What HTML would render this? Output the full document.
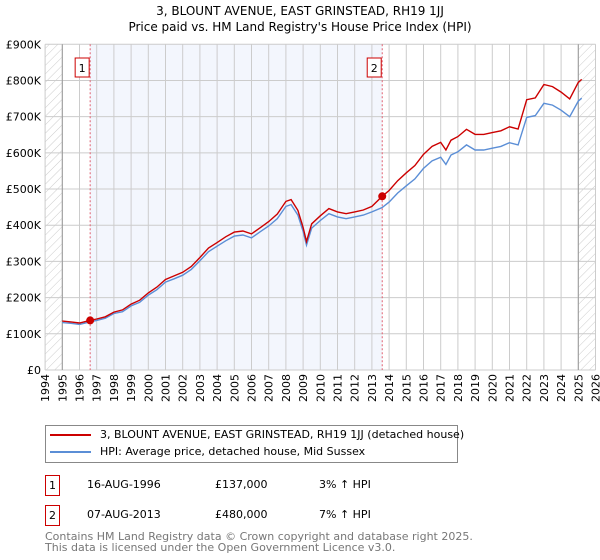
<!DOCTYPE html>
<html><head><meta charset="utf-8"><style>
body{margin:0;background:#fff;font-family:"DejaVu Sans","Liberation Sans",sans-serif;}
#wrap{position:relative;width:600px;height:560px;overflow:hidden}
.t{position:absolute;font-size:11px;color:#000;white-space:nowrap}
.box{position:absolute;border:1px solid #c00;width:13px;height:19px;font-size:11px;text-align:center;line-height:19px}
</style></head><body><div id="wrap">
<div class="t" style="left:0;width:600px;text-align:center;top:3px;font-size:12px;line-height:16px">3, BLOUNT AVENUE, EAST GRINSTEAD, RH19 1JJ<br>Price paid vs. HM Land Registry's House Price Index (HPI)</div>
<svg id="chart" width="600" height="410" style="position:absolute;left:0;top:0" font-family="DejaVu Sans, Liberation Sans, sans-serif" font-size="11"></svg>
<div style="position:absolute;left:45px;top:425px;width:411px;height:36px;border:1px solid #888"></div>
<div style="position:absolute;left:50px;top:434px;width:41px;height:2px;background:#c00"></div>
<div class="t" style="left:100px;top:428px">3, BLOUNT AVENUE, EAST GRINSTEAD, RH19 1JJ (detached house)</div>
<div style="position:absolute;left:50px;top:451px;width:41px;height:2px;background:#5b8ed6"></div>
<div class="t" style="left:100px;top:445px">HPI: Average price, detached house, Mid Sussex</div>
<div class="box" style="left:45px;top:475px">1</div>
<div class="t" style="left:87px;top:478px">16-AUG-1996</div>
<div class="t" style="left:215px;top:478px">£137,000</div>
<div class="t" style="left:319px;top:478px">3% ↑ HPI</div>
<div class="box" style="left:45px;top:505px">2</div>
<div class="t" style="left:87px;top:508px">07-AUG-2013</div>
<div class="t" style="left:215px;top:508px">£480,000</div>
<div class="t" style="left:319px;top:508px">7% ↑ HPI</div>
<div class="t" style="left:45px;top:531px;color:#777;line-height:11px">Contains HM Land Registry data © Crown copyright and database right 2025.<br>This data is licensed under the Open Government Licence v3.0.</div>
</div>
<script>
const yTicks=[0,100,200,300,400,500,600,700,800,900];
const yTickLabels=["£0","£100K","£200K","£300K","£400K","£500K","£600K","£700K","£800K","£900K"];
const years=[1994,1995,1996,1997,1998,1999,2000,2001,2002,2003,2004,2005,2006,2007,2008,2009,2010,2011,2012,2013,2014,2015,2016,2017,2018,2019,2020,2021,2022,2023,2024,2025,2026];
const hpiT=[1995.0,1995.5,1996.0,1996.6,1997,1997.5,1998,1998.5,1999,1999.5,2000,2000.5,2001,2001.5,2002,2002.5,2003,2003.5,2004,2004.5,2005,2005.5,2006,2006.5,2007,2007.5,2008,2008.3,2008.7,2009.0,2009.2,2009.5,2010,2010.5,2011,2011.5,2012,2012.5,2013,2013.6,2014,2014.5,2015,2015.5,2016,2016.5,2017,2017.3,2017.6,2018,2018.5,2019,2019.5,2020,2020.5,2021,2021.5,2022,2022.5,2023,2023.5,2024,2024.5,2025,2025.2];
const hpiV=[131,129,126,133,137,143,156,161,177,187,207,222,243,252,262,278,302,327,342,357,370,373,365,382,398,418,452,457,428,383,345,392,413,432,423,418,423,428,437,449,464,489,509,528,557,578,588,568,594,603,622,608,608,613,618,628,622,698,703,737,732,718,700,743,751];
const redV=[135,133,130,137,141,147,160,166,182,193,213,229,250,260,270,286,311,337,352,368,381,384,376,393,410,431,466,471,441,394,355,404,426,446,437,432,437,442,452,480,496,523,545,565,596,618,629,608,635,645,665,651,651,656,661,672,666,747,752,789,783,768,749,795,803];
const sales=[{t:1996.62,v:137,l:"1"},{t:2013.6,v:480,l:"2"}];
const X0=45.1,X1=595.5,Y0=370,Y1=44.3;
const xs=t=>X0+(t-1994)*(X1-X0)/32;
const ys=v=>Y0-v*(Y0-Y1)/900;
const svg=document.getElementById('chart');const NS="http://www.w3.org/2000/svg";
function mk(tag,attrs,name){const e=document.createElementNS(NS,tag);for(const k in attrs)e.setAttribute(k,attrs[k]);


svg.appendChild(e);return e;}
const defs=document.createElementNS(NS,'defs');defs.innerHTML='<pattern id="hatch" width="6" height="6" patternUnits="userSpaceOnUse" patternTransform="rotate(45)"><line x1="0" y1="0" x2="0" y2="6" stroke="#ccc" stroke-width="1"/></pattern>';svg.appendChild(defs);
mk('rect',{x:xs(sales[0].t),y:Y1,width:xs(sales[1].t)-xs(sales[0].t),height:Y0-Y1,fill:'#f3f6fd'},'ownership-period-shade');
mk('rect',{x:X0,y:Y1,width:xs(1995)-X0,height:Y0-Y1,fill:'url(#hatch)'},'pre-data-hatch');
mk('rect',{x:xs(2025),y:Y1,width:X1-xs(2025),height:Y0-Y1,fill:'url(#hatch)'},'post-data-hatch');
years.forEach(y=>{mk('line',{x1:xs(y),x2:xs(y),y1:Y1,y2:Y0,stroke:'#ccc'},'x-grid-line');
const tx=mk('text',{x:0,y:0,transform:`translate(${xs(y)+4},374) rotate(-90)`,'text-anchor':'end'},'x-tick-label');tx.textContent=y;});
yTicks.forEach((v,i)=>{mk('line',{x1:X0,x2:X1,y1:ys(v),y2:ys(v),stroke:'#ccc'},'y-grid-line');
const tx=mk('text',{x:41,y:ys(v)+4,'text-anchor':'end'},'y-tick-label');tx.textContent=yTickLabels[i];});
mk('line',{x1:xs(1995),x2:xs(1995),y1:Y1,y2:Y0,stroke:'#999'},'data-start-line');
mk('line',{x1:xs(2025),x2:xs(2025),y1:Y1,y2:Y0,stroke:'#999'},'data-end-line');
sales.forEach(s=>{mk('line',{x1:xs(s.t),x2:xs(s.t),y1:Y1,y2:Y0,stroke:'#e06070','stroke-dasharray':'2,2'},'sale-marker-line');
mk('rect',{x:xs(s.t)-15,y:58,width:14,height:19,fill:'#fff',stroke:'#c00'},'sale-label-box');
const tx=mk('text',{x:xs(s.t)-8,y:72,'text-anchor':'middle'},'sale-label');tx.textContent=s.l;});
const pts=a=>hpiT.map((t,i)=>xs(t).toFixed(1)+','+ys(a[i]).toFixed(1)).join(' ');
mk('polyline',{points:pts(hpiV),fill:'none',stroke:'#5b8ed6','stroke-width':1.4},'hpi-line');
mk('polyline',{points:pts(redV),fill:'none',stroke:'#c00','stroke-width':1.4},'property-price-line');
sales.forEach(s=>mk('circle',{cx:xs(s.t),cy:ys(s.v),r:4,fill:'#c00'},'sale-point'));
</script></body></html>
